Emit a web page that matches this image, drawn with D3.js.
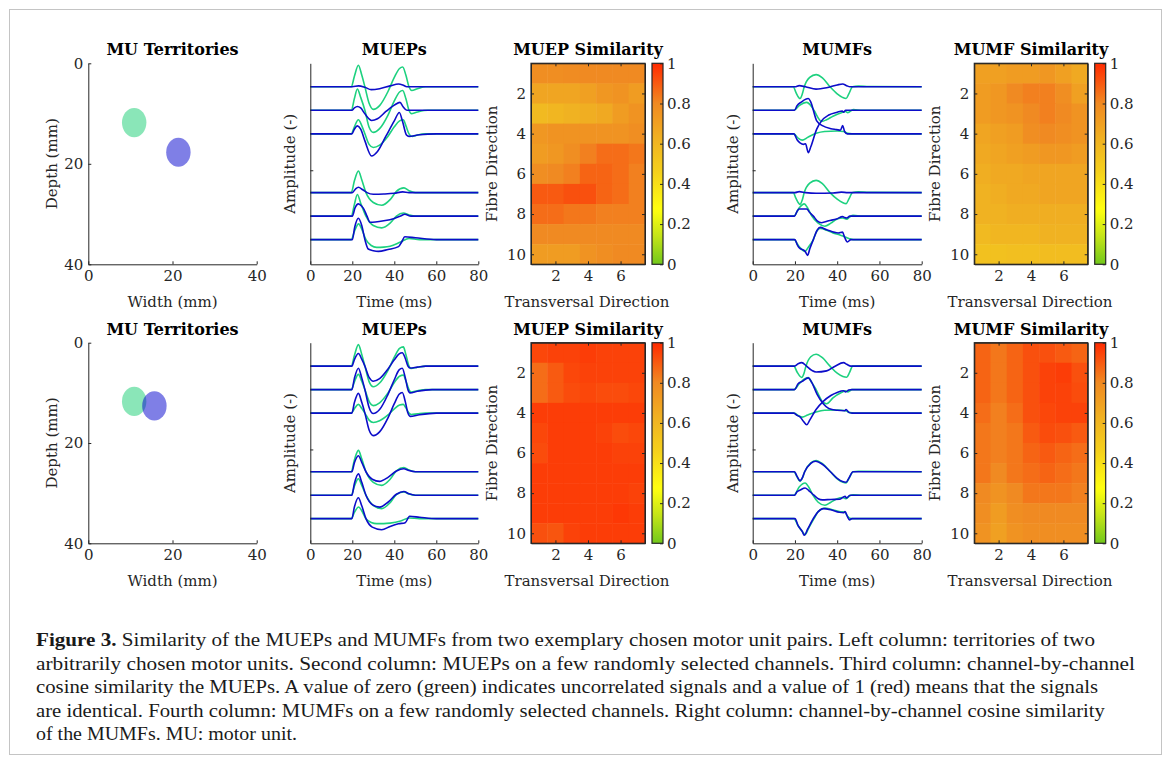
<!DOCTYPE html>
<html>
<head>
<meta charset="utf-8">
<script src="https://cdn.jsdelivr.net/npm/d3@7"></script>
<style>
  body { margin: 0; background: #fff; }
</style>
</head>
<body>
<svg id="fig" width="1171" height="764"></svg>
<script>

/* ---- data ---- */

const timeTicks = [0, 20, 40, 60, 80]
const mmTicks = [0, 20, 40]
const colTicks = [2, 4, 6]
const rowTicks = [2, 4, 6, 8, 10]
const cbarTicks = [0, 0.2, 0.4, 0.6, 0.8, 1]
const channelOffsets = [1, 2, 3, 5.5, 6.5, 7.5]   // stacking of the 6 channels
const ampTick = 4.55

// MU territories, centre + radius in mm
const territoryTop = [{x: 10.9, y: 11.8, r: 2.9}, {x: 21.4, y: 17.7, r: 2.9}]
const territoryBottom = [{x: 10.9, y: 11.7, r: 2.9}, {x: 15.7, y: 12.6, r: 2.9}]

// waveforms: [time ms, amplitude in channel spacings]
const muepTopGreen = [
  [[0,0],[19.5,0],[21,0.45],[22.9,0.92],[24.5,0.5],[26,0],[28,-0.7],[30,-0.96],[33,-0.8],[37,-0.2],[40,0.4],[42.5,0.78],[44,0.84],[45.5,0.5],[47,0],[48.3,-0.16],[51,-0.08],[55,0],[80,0]],
  [[0,0],[19.5,0],[21,0.5],[22.4,0.91],[24,0.55],[26,0],[28,-0.72],[30,-0.94],[33,-0.78],[37,-0.2],[40,0.4],[42.5,0.78],[44,0.84],[45.5,0.5],[47,0],[48,-0.14],[51,-0.07],[56,0],[80,0]],
  [[0,0],[19.5,0],[21,0.3],[22.9,0.6],[24.5,0.35],[26,0],[28,-0.45],[30,-0.58],[33,-0.48],[37,-0.1],[40,0.3],[42.5,0.55],[44.3,0.6],[45.5,0.35],[47,0],[48.5,-0.11],[51,-0.05],[55,0],[80,0]],
  [[0,0],[19.5,0],[21,0.5],[22.9,0.92],[24.5,0.55],[26.5,0],[30,-0.42],[34,-0.54],[38,-0.3],[41,0.05],[44.6,0.2],[47,0.08],[50,0],[80,0]],
  [[0,0],[19.5,0],[21,0.5],[22.4,0.92],[24,0.55],[26.5,0],[30,-0.4],[34,-0.5],[38,-0.3],[41,0],[44.3,0.13],[47,0.05],[50,0],[80,0]],
  [[0,0],[19.5,0],[21,0.35],[23,0.67],[24.5,0.45],[26.5,0],[29,-0.25],[31.6,-0.33],[35,-0.32],[38,-0.28],[43,-0.1],[47,0.05],[52,0],[80,0]]
]
const muepTopBlue = [
  [[0,0],[20,0],[23,0.04],[26,-0.02],[29,-0.12],[33,-0.08],[38,0.04],[42,0.12],[44,0.08],[46,0],[80,0]],
  [[0,0],[19.8,0],[21,0.1],[22.4,0.16],[24,0.1],[26,-0.15],[29.2,-0.43],[32,-0.36],[36,-0.05],[40,0.22],[42.7,0.34],[44.2,0.15],[46,0],[80,0]],
  [[0,0],[19.8,0],[21,0.2],[22.4,0.34],[24,0.2],[26,-0.3],[29.2,-0.94],[32,-0.75],[36,-0.1],[40,0.55],[42.4,0.91],[44,0.5],[45.8,-0.05],[47,-0.11],[52,-0.04],[60,0],[80,0]],
  [[0,0],[20,0],[21.5,0.15],[22.9,0.23],[25,0.12],[27,0],[30,-0.07],[35,-0.06],[40,-0.03],[44,0.03],[47,0],[80,0]],
  [[0,0],[20,0],[21.3,0.35],[22.9,0.52],[24.5,0.42],[25.5,0.3],[27,0],[28.4,-0.26],[31,-0.25],[35,-0.2],[40,-0.1],[43,0],[45,0.08],[48,0],[80,0]],
  [[0,0],[20,0],[21.2,0.55],[22.9,0.91],[24.5,0.6],[26,0],[27.6,-0.4],[30,-0.47],[32.4,-0.5],[37,-0.42],[42,-0.3],[43.5,-0.1],[45,0.12],[50,0.08],[60,0],[80,0]]
]
const muepBottomGreen = [
  [[0,0],[19.5,0],[21,0.45],[22.9,0.92],[24.5,0.5],[26,0],[28,-0.66],[30,-0.88],[33,-0.72],[37,-0.18],[40,0.38],[42.5,0.76],[44.3,0.82],[45.5,0.5],[47,0],[48,-0.1],[51,-0.05],[55,0],[80,0]],
  [[0,0],[19.5,0],[21,0.33],[22.9,0.65],[24.5,0.36],[26,0],[28,-0.5],[30,-0.68],[33,-0.56],[37,-0.14],[40,0.3],[42.5,0.57],[44.3,0.62],[45.5,0.38],[47,0],[48,-0.1],[51,-0.05],[55,0],[80,0]],
  [[0,0],[19.5,0],[21,0.19],[22.9,0.37],[24.5,0.2],[26,0],[28,-0.3],[30,-0.4],[33,-0.33],[37,-0.08],[40,0.18],[42.5,0.34],[44.3,0.37],[45.5,0.22],[47,0],[48,-0.06],[51,-0.03],[55,0],[80,0]],
  [[0,0],[19.5,0],[21,0.5],[22.9,0.91],[24.5,0.55],[26.5,0],[30,-0.45],[34,-0.58],[38,-0.32],[41,0.04],[44.6,0.18],[47,0.07],[50,0],[80,0]],
  [[0,0],[19.5,0],[21,0.38],[22.9,0.7],[24.5,0.42],[26.5,0],[30,-0.44],[34,-0.57],[38,-0.32],[41,0.03],[44.6,0.14],[47,0.05],[50,0],[80,0]],
  [[0,0],[19.5,0],[21,0.27],[23,0.5],[24.5,0.34],[26.5,0],[29,-0.16],[31.6,-0.21],[35,-0.21],[38,-0.19],[43,-0.1],[47,0.03],[52,0],[80,0]]
]
const muepBottomBlue = [
  [[0,0],[19.8,0],[21,0.28],[22.9,0.54],[24.5,0.3],[26,0],[28,-0.48],[30,-0.64],[33,-0.53],[37,-0.12],[40,0.27],[42.3,0.52],[43.8,0.57],[45.2,0.34],[46.5,0],[47.5,-0.08],[51,-0.04],[55,0],[80,0]],
  [[0,0],[19.8,0],[21,0.48],[22.9,0.91],[24.5,0.5],[26,0],[28,-0.76],[30,-1.02],[33,-0.85],[37,-0.2],[40,0.42],[42.3,0.84],[43.8,0.91],[45.2,0.52],[46.5,0],[47.5,-0.14],[51,-0.07],[58,0],[80,0]],
  [[0,0],[19.8,0],[21,0.45],[22.9,0.84],[24.5,0.46],[26,0],[28,-0.72],[30,-0.96],[33,-0.8],[37,-0.2],[40,0.4],[42.3,0.8],[43.8,0.88],[45.2,0.5],[46.5,0],[47.5,-0.14],[52,-0.07],[60,0],[80,0]],
  [[0,0],[19.8,0],[21,0.38],[22.9,0.68],[24.5,0.4],[26.5,0],[29.5,-0.32],[33,-0.41],[37,-0.24],[41,0.03],[44.5,0.13],[47,0.05],[50,0],[80,0]],
  [[0,0],[19.8,0],[21,0.5],[22.9,0.91],[24.5,0.55],[26.5,0],[29.5,-0.4],[33,-0.51],[37,-0.3],[41,0.04],[44.5,0.16],[47,0.06],[50,0],[80,0]],
  [[0,0],[19.8,0],[21,0.5],[22.9,0.89],[24.5,0.55],[26.5,0],[29.5,-0.36],[34,-0.47],[38,-0.33],[42,-0.22],[45.2,-0.17],[47.3,0.1],[52,0.06],[60,0],[80,0]]
]
const mumfTopGreen = [
  [[0,0],[19.2,0],[20.5,-0.25],[22.4,-0.5],[23.5,-0.3],[24.4,0],[27,0.4],[30,0.52],[33,0.38],[36.6,0],[40,-0.3],[42.5,-0.45],[44.2,-0.5],[45.5,-0.3],[47.3,0],[50,0.03],[55,0.01],[80,0]],
  [[0,0],[19.5,0],[22,0.2],[25.6,0.34],[27.5,0.2],[29,0],[32.6,-0.47],[35,-0.4],[38,-0.25],[42,-0.1],[44,-0.05],[45,-0.1],[47.6,0.03],[52,0],[80,0]],
  [[0,0],[19.5,0],[21.5,-0.18],[23.5,-0.27],[26,-0.15],[30,0.02],[34,0.1],[40,0.12],[43,0.1],[45,0.02],[47,0],[80,0]],
  [[0,0],[19.2,0],[20.5,-0.25],[22.4,-0.5],[23.5,-0.3],[24.4,0],[27,0.4],[30,0.52],[33,0.38],[36.6,0],[40,-0.28],[42.5,-0.42],[44.2,-0.47],[45.5,-0.28],[47.3,0],[50,0.03],[55,0.01],[80,0]],
  [[0,0],[19.5,0],[22,0.35],[24.4,0.52],[26,0.35],[28,0],[31,-0.3],[34.2,-0.43],[37,-0.3],[40,-0.12],[42.5,-0.08],[44.5,-0.13],[46,-0.03],[47.5,0.03],[52,0],[80,0]],
  [[0,0],[19.5,0],[22,-0.3],[24.8,-0.5],[26.5,-0.3],[28.7,0],[30,0.3],[31.9,0.47],[35,0.4],[38,0.28],[41.3,0.2],[43.5,0.12],[45.5,0.05],[47.6,0],[80,0]]
]
const mumfTopBlue = [
  [[0,0],[20,0],[22,0.05],[25,0],[30,-0.1],[35,-0.04],[40,0.08],[42.6,0.12],[44.5,0.05],[46,0],[80,0]],
  [[0,0],[19.8,0],[21,0.2],[23,0.35],[26.3,0.5],[27.5,0.35],[30.3,-0.45],[33,-0.65],[37,-0.78],[39.7,-0.82],[41.5,-0.85],[42.6,-0.65],[43.5,-0.9],[44.8,-1],[80,-1]],
  [[0,0],[19.5,0],[21,-0.25],[22.4,-0.38],[24,-0.45],[25,-0.42],[26.3,-0.8],[27.5,-0.55],[30.3,0.2],[32.6,0.55],[36,0.8],[40,0.92],[42.4,0.97],[43,0.92],[44,1],[80,1]],
  [[0,0],[20,0],[22,0.04],[25,0],[30,-0.03],[38,-0.02],[42,0.02],[45,0],[80,0]],
  [[0,0],[19.8,0],[21,0.2],[22,0.3],[25.6,0.3],[27,0.15],[28.7,0],[30.5,-0.2],[32.6,-0.28],[36,-0.2],[39.7,-0.12],[42.6,-0.02],[43.5,-0.06],[44.5,-0.08],[46,0],[80,0]],
  [[0,0],[20,0],[21,-0.2],[22,-0.35],[24.8,-0.5],[26,-0.67],[27,-0.4],[28.7,0],[30.5,0.4],[31.9,0.52],[35,0.42],[40.5,0.28],[42.5,0.32],[43.5,0.1],[44.8,-0.1],[46.5,0],[80,0]]
]
const mumfBottomGreen = [
  [[0,0],[19.5,0],[21,-0.25],[23.2,-0.48],[24.3,-0.3],[25.2,0],[27.5,0.4],[30,0.51],[33,0.36],[36.6,0],[40,-0.3],[42.7,-0.44],[44.5,-0.47],[45.8,-0.28],[47.3,0],[50,0.02],[80,0]],
  [[0,0],[19.5,0],[22,0.25],[24.3,0.45],[26.3,0.51],[28,0.3],[30,0],[33.4,-0.55],[35,-0.6],[38,-0.35],[42,-0.12],[44,-0.05],[45,-0.1],[47,0],[80,0]],
  [[0,0],[19.5,0],[21.5,-0.1],[23.5,-0.17],[26,-0.08],[30,0.05],[34,0.12],[40,0.13],[44,0.1],[46,0.02],[48,0],[80,0]],
  [[0,0],[19.5,0],[21,-0.22],[22.4,-0.41],[23.6,-0.25],[24.6,0],[27.5,0.38],[30,0.48],[33,0.34],[36.8,0],[40,-0.3],[42.5,-0.44],[44.2,-0.48],[45.6,-0.28],[47.5,0],[50,0.02],[80,0]],
  [[0,0],[19.5,0],[22,0.35],[24.8,0.52],[26.5,0.35],[28.5,0],[31,-0.3],[34.2,-0.43],[37,-0.3],[40,-0.15],[42.5,-0.1],[44,-0.15],[46,-0.02],[47.5,0.02],[52,0],[80,0]],
  [[0,0],[19.5,0],[21.5,-0.3],[23.5,-0.55],[24.8,-0.68],[26.5,-0.4],[29,0],[31,0.3],[34.2,0.45],[37,0.4],[41,0.3],[43.7,0.28],[44.5,0.15],[46,0.02],[47.5,0],[80,0]]
]
const mumfBottomBlue = [
  [[0,0],[19.8,0],[21.5,0.1],[23.2,0.15],[25.5,0],[28,-0.18],[30,-0.25],[35,-0.2],[39,0],[43,0.15],[44.5,0.08],[46.5,0],[80,0]],
  [[0,0],[19.8,0],[21.5,0.25],[23.5,0.35],[26.3,0.5],[28,0.3],[30.5,-0.2],[33.4,-0.6],[36,-0.8],[40,-0.88],[43.5,-0.9],[44.2,-0.85],[45.5,-0.97],[47,-1],[80,-1]],
  [[0,0],[19.5,0],[21,-0.1],[22.4,-0.16],[24,-0.35],[25.6,-0.5],[27,-0.3],[30,0.15],[33.4,0.5],[37,0.75],[40,0.88],[43,0.95],[44,0.9],[45.5,0.98],[47,1],[80,1]],
  [[0,0],[19.8,0],[21,-0.2],[22.4,-0.38],[23.6,-0.24],[24.6,0],[27.5,0.36],[29.7,0.45],[33,0.32],[36.8,0],[40,-0.28],[42.5,-0.42],[44.2,-0.45],[45.6,-0.26],[47.5,0],[80,0]],
  [[0,0],[19.8,0],[21,0.15],[22.5,0.22],[24.8,0.31],[26.5,0.2],[29,0],[31,-0.15],[33,-0.2],[37,-0.18],[41,-0.17],[43.7,-0.05],[44.5,-0.12],[46,0],[80,0]],
  [[0,0],[20,0],[21.5,-0.3],[23.5,-0.55],[24.4,-0.71],[26,-0.45],[29,0.05],[31,0.3],[33.4,0.43],[37,0.38],[41,0.27],[43,0.25],[43.7,0.3],[44.8,0.1],[45.8,-0.05],[47,0],[80,0]]
]

// channel-by-channel cosine similarity, rows = fibre direction 1..10, cols = transversal 1..7
const simMuepTop = [
  [0.78,0.78,0.79,0.8,0.8,0.8,0.8],
  [0.68,0.68,0.68,0.7,0.74,0.76,0.72],
  [0.58,0.6,0.62,0.64,0.66,0.72,0.76],
  [0.74,0.76,0.76,0.76,0.76,0.76,0.78],
  [0.72,0.74,0.78,0.82,0.86,0.86,0.84],
  [0.78,0.8,0.82,0.88,0.88,0.86,0.82],
  [0.9,0.9,0.92,0.92,0.88,0.86,0.82],
  [0.86,0.86,0.84,0.84,0.82,0.82,0.82],
  [0.8,0.8,0.8,0.8,0.8,0.8,0.8],
  [0.72,0.72,0.72,0.76,0.78,0.8,0.8]
]
const simMumfTop = [
  [0.7,0.7,0.72,0.72,0.74,0.7,0.66],
  [0.72,0.74,0.8,0.82,0.82,0.78,0.7],
  [0.72,0.74,0.76,0.8,0.82,0.8,0.76],
  [0.68,0.7,0.72,0.78,0.8,0.78,0.76],
  [0.66,0.68,0.7,0.72,0.74,0.74,0.72],
  [0.64,0.66,0.66,0.68,0.68,0.68,0.68],
  [0.62,0.64,0.66,0.66,0.68,0.68,0.68],
  [0.62,0.62,0.64,0.64,0.64,0.64,0.64],
  [0.58,0.6,0.6,0.6,0.62,0.62,0.62],
  [0.54,0.54,0.55,0.55,0.56,0.56,0.56]
]
const simMuepBottom = [
  [0.94,0.95,0.95,0.96,0.95,0.95,0.95],
  [0.86,0.9,0.94,0.95,0.95,0.95,0.95],
  [0.86,0.9,0.93,0.94,0.93,0.93,0.94],
  [0.96,0.96,0.96,0.96,0.96,0.96,0.96],
  [0.94,0.96,0.96,0.96,0.95,0.93,0.94],
  [0.93,0.96,0.96,0.96,0.96,0.95,0.95],
  [0.96,0.96,0.96,0.96,0.96,0.96,0.96],
  [0.96,0.96,0.96,0.96,0.96,0.96,0.95],
  [0.96,0.96,0.96,0.96,0.96,0.97,0.96],
  [0.92,0.91,0.95,0.96,0.96,0.96,0.96]
]
const simMumfBottom = [
  [0.88,0.84,0.88,0.92,0.92,0.9,0.88],
  [0.88,0.84,0.88,0.92,0.95,0.96,0.92],
  [0.88,0.84,0.88,0.92,0.95,0.95,0.93],
  [0.86,0.82,0.86,0.92,0.94,0.95,0.95],
  [0.84,0.82,0.84,0.9,0.93,0.92,0.9],
  [0.84,0.82,0.84,0.88,0.9,0.88,0.86],
  [0.84,0.8,0.84,0.86,0.88,0.86,0.84],
  [0.8,0.76,0.8,0.84,0.84,0.84,0.82],
  [0.78,0.72,0.78,0.8,0.8,0.8,0.8],
  [0.76,0.7,0.76,0.78,0.78,0.78,0.78]
]

const captionBold = 'Figure 3.'
const captionLines = [
  ' Similarity of the MUEPs and MUMFs from two exemplary chosen motor unit pairs. Left column: territories of two',
  'arbitrarily chosen motor units. Second column: MUEPs on a few randomly selected channels. Third column: channel-by-channel',
  'cosine similarity the MUEPs. A value of zero (green) indicates uncorrelated signals and a value of 1 (red) means that the signals',
  'are identical. Fourth column: MUMFs on a few randomly selected channels. Right column: channel-by-channel cosine similarity',
  'of the MUMFs. MU: motor unit.'
]


/* ---- drawing ---- */

const svg = d3.select('#fig')
const AXFONT = '"DejaVu Serif", serif'
const CAPFONT = '"Liberation Serif", serif'
const GREEN = '#1dd17f'
const BLUE = '#0c0cc9'
const INK = '#262626'
const FS = 15

const simColor = d3.scaleLinear()
  .domain([0, 0.14, 0.27, 0.45, 0.62, 0.8, 1])
  .range(['#72c81c', '#c4e418', '#ffff10', '#f5d21c', '#f0b222', '#f08a22', '#ff2a00'])

// outer frame
svg.append('rect')
  .attr('x', 9.5).attr('y', 9.5).attr('width', 1152).attr('height', 745)
  .attr('fill', 'none').attr('stroke', '#c4c4c4')

function styleAxis(g) {
  g.attr('font-family', AXFONT).attr('font-size', FS)
  g.selectAll('text').attr('fill', INK)
  g.selectAll('line').attr('stroke', INK)
  g.selectAll('path').attr('stroke', INK)
}

function title(x, y, txt) {
  svg.append('text').attr('x', x).attr('y', y)
    .attr('font-family', AXFONT)
    .attr('text-anchor', 'middle').attr('font-weight', 'bold')
    .attr('font-size', 16).attr('fill', '#000').text(txt)
}

function xlabel(x, y, txt) {
  svg.append('text').attr('x', x).attr('y', y)
    .attr('font-family', AXFONT)
    .attr('text-anchor', 'middle').attr('font-size', FS).attr('fill', INK).text(txt)
}

function ylabel(x, y, txt) {
  svg.append('text').attr('transform', `translate(${x},${y}) rotate(-90)`)
    .attr('font-family', AXFONT)
    .attr('text-anchor', 'middle').attr('font-size', FS).attr('fill', INK).text(txt)
}

function territories(box, mus) {
  const x = d3.scaleLinear().domain([0, 40]).range([box.x0, box.x1])
  const y = d3.scaleLinear().domain([0, 40]).range([box.y0, box.y1])

  svg.append('g').selectAll('ellipse')
    .data(mus).join('ellipse')
      .attr('cx', d => x(d.x)).attr('cy', d => y(d.y))
      .attr('rx', d => x(d.r) - x(0)).attr('ry', d => y(d.r) - y(0))
      .attr('fill', (d, i) => i ? '#0000cd' : '#15cd71')
      .attr('fill-opacity', 0.5)

  svg.append('g').attr('transform', `translate(0,${box.y1})`)
    .call(d3.axisBottom(x).tickValues(mmTicks).tickFormat(d3.format('d')).tickSizeInner(-3).tickSizeOuter(0).tickPadding(6))
    .call(styleAxis)
  svg.append('g').attr('transform', `translate(${box.x0},0)`)
    .call(d3.axisLeft(y).tickValues(mmTicks).tickFormat(d3.format('d')).tickSizeInner(-3).tickSizeOuter(0).tickPadding(5))
    .call(styleAxis)

  title((box.x0 + box.x1) / 2, box.y0 - 8, 'MU Territories')
  xlabel((box.x0 + box.x1) / 2, box.y1 + 43, 'Width (mm)')
  ylabel(box.x0 - 31, (box.y0 + box.y1) / 2, 'Depth (mm)')
}

function traces(box, green, blue, name) {
  const x = d3.scaleLinear().domain([0, 80]).range([box.x0, box.x1])
  const y = d3.scaleLinear().domain([0, 8.55]).range([box.y0, box.y1])

  function drawSet(set, colour) {
    set.forEach((pts, ch) => {
      const off = channelOffsets[ch]
      const line = d3.line()
        .x(d => x(d[0]))
        .y(d => y(off - d[1]))
        .curve(d3.curveMonotoneX)
      svg.append('path').datum(pts)
        .attr('d', line)
        .attr('fill', 'none').attr('stroke', colour)
        .attr('stroke-width', 1.6).attr('stroke-linejoin', 'round')
    })
  }
  drawSet(green, GREEN)
  drawSet(blue, BLUE)

  svg.append('g').attr('transform', `translate(0,${box.y1})`)
    .call(d3.axisBottom(x).tickValues(timeTicks).tickFormat(d3.format('d')).tickSizeInner(-3).tickSizeOuter(0).tickPadding(6))
    .call(styleAxis)
  svg.append('g').attr('transform', `translate(${box.x0},0)`)
    .call(d3.axisLeft(y).tickValues([ampTick]).tickFormat('').tickSizeInner(-3).tickSizeOuter(0))
    .call(styleAxis)

  title((box.x0 + box.x1) / 2, box.y0 - 8, name)
  xlabel((box.x0 + box.x1) / 2, box.y1 + 43, 'Time (ms)')
  ylabel(box.x0 - 15, (box.y0 + box.y1) / 2, 'Amplitude (-)')
}

function heatmap(box, grid, name) {
  const x = d3.scaleLinear().domain([0.5, 7.5]).range([box.x0, box.x1])
  const y = d3.scaleLinear().domain([0.5, 10.5]).range([box.y0, box.y1])

  const cells = grid.flatMap((row, r) => row.map((v, c) => ({r: r + 1, c: c + 1, v})))
  svg.append('g').selectAll('rect')
    .data(cells).join('rect')
      .attr('x', d => x(d.c - 0.5)).attr('y', d => y(d.r - 0.5))
      .attr('width', x(1.5) - x(0.5) + 0.5).attr('height', y(1.5) - y(0.5) + 0.5)
      .attr('fill', d => simColor(d.v))

  svg.append('g').attr('transform', `translate(0,${box.y1})`)
    .call(d3.axisBottom(x).tickValues(colTicks).tickFormat(d3.format('d')).tickSizeInner(-3).tickSizeOuter(0).tickPadding(6))
    .call(styleAxis)
  svg.append('g').attr('transform', `translate(0,${box.y0})`)
    .call(d3.axisTop(x).tickValues(colTicks).tickFormat('').tickSizeInner(-3).tickSizeOuter(0))
    .call(styleAxis)
  svg.append('g').attr('transform', `translate(${box.x0},0)`)
    .call(d3.axisLeft(y).tickValues(rowTicks).tickFormat(d3.format('d')).tickSizeInner(-3).tickSizeOuter(0).tickPadding(5))
    .call(styleAxis)
  svg.append('g').attr('transform', `translate(${box.x1},0)`)
    .call(d3.axisRight(y).tickValues(rowTicks).tickFormat('').tickSizeInner(-3).tickSizeOuter(0))
    .call(styleAxis)
  svg.append('rect')
    .attr('x', box.x0).attr('y', box.y0)
    .attr('width', box.x1 - box.x0).attr('height', box.y1 - box.y0)
    .attr('fill', 'none').attr('stroke', INK).attr('stroke-width', 1.2)

  // colour bar
  const cb = {x0: box.x1 + 7, x1: box.x1 + 18}
  const cy = d3.scaleLinear().domain([0, 1]).range([box.y1, box.y0])
  const gradId = 'grad' + Math.round(box.x0) + Math.round(box.y0)
  const grad = svg.append('defs').append('linearGradient')
    .attr('id', gradId).attr('x1', 0).attr('y1', 1).attr('x2', 0).attr('y2', 0)
  grad.selectAll('stop')
    .data(d3.range(0, 1.0001, 0.02)).join('stop')
      .attr('offset', d => d).attr('stop-color', d => simColor(d))
  svg.append('rect')
    .attr('x', cb.x0).attr('y', box.y0).attr('width', cb.x1 - cb.x0).attr('height', box.y1 - box.y0)
    .attr('fill', `url(#${gradId})`).attr('stroke', INK).attr('stroke-width', 1.2)
  svg.append('g').attr('transform', `translate(${cb.x1},0)`)
    .call(d3.axisRight(cy).tickValues(cbarTicks).tickFormat(d3.format('~g')).tickSizeInner(-3).tickSizeOuter(0).tickPadding(4))
    .call(styleAxis)
    .call(g => g.select('.domain').remove())

  title((box.x0 + box.x1) / 2, box.y0 - 8, name)
  xlabel((box.x0 + box.x1) / 2 - 1, box.y1 + 43, 'Transversal Direction')
  ylabel(box.x0 - 34, (box.y0 + box.y1) / 2, 'Fibre Direction')
}

const rows = [{y0: 63.3, y1: 264.3}, {y0: 342.7, y1: 543.3}]
const data = [
  {terr: territoryTop, muepG: muepTopGreen, muepB: muepTopBlue, mumfG: mumfTopGreen, mumfB: mumfTopBlue, simE: simMuepTop, simF: simMumfTop},
  {terr: territoryBottom, muepG: muepBottomGreen, muepB: muepBottomBlue, mumfG: mumfBottomGreen, mumfB: mumfBottomBlue, simE: simMuepBottom, simF: simMumfBottom}
]

rows.forEach((r, i) => {
  const d = data[i]
  territories({x0: 88.3, x1: 256.7, y0: r.y0, y1: r.y1}, d.terr)
  traces({x0: 310.3, x1: 478.3, y0: r.y0, y1: r.y1}, d.muepG, d.muepB, 'MUEPs')
  heatmap({x0: 531, x1: 645, y0: r.y0, y1: r.y1}, d.simE, 'MUEP Similarity')
  traces({x0: 752.7, x1: 921.7, y0: r.y0, y1: r.y1}, d.mumfG, d.mumfB, 'MUMFs')
  heatmap({x0: 974.3, x1: 1087.7, y0: r.y0, y1: r.y1}, d.simF, 'MUMF Similarity')
})

// caption
const capWidths = [1059, 1099, 1062, 1069, 261]
captionLines.forEach((line, i) => {
  const t = svg.append('text')
    .attr('x', 36).attr('y', 646 + i * 23.5)
    .attr('font-family', CAPFONT)
    .attr('font-size', 18.5).attr('fill', '#1a1a1a')
    .attr('textLength', capWidths[i]).attr('lengthAdjust', 'spacingAndGlyphs')
  if (i === 0) t.append('tspan').attr('font-weight', 'bold').text(captionBold)
  t.append('tspan').text(line)
})

</script>
</body>
</html>
